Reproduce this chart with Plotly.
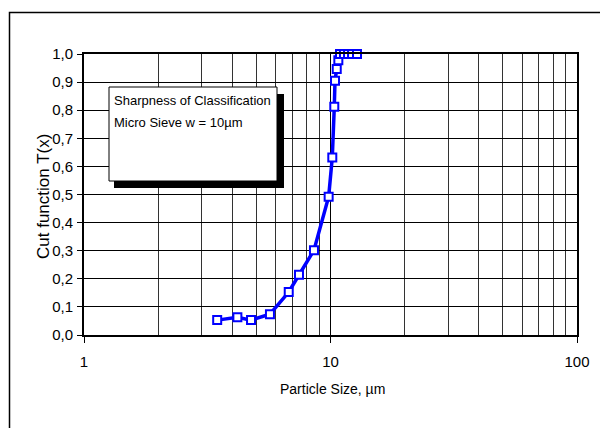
import plotly.graph_objects as go

# Data
particle_size = [3.47, 4.19, 4.76, 5.68, 6.77, 7.45, 8.57, 9.83, 10.17, 10.36,
                 10.43, 10.6, 10.76, 10.93, 11.34, 11.78, 12.23, 12.81]
cut_function = [0.053, 0.063, 0.053, 0.074, 0.153, 0.214, 0.302, 0.492, 0.632, 0.812,
                0.905, 0.947, 0.978, 1.0, 1.0, 1.0, 1.0, 1.0]

x_major_ticks = [1, 10, 100]
x_major_labels = ["1", "10", "100"]
x_minor_ticks = [2, 3, 4, 5, 6, 7, 8, 9, 20, 30, 40, 50, 60, 70, 80, 90]

box_lines = ["Sharpness of Classification", "Micro Sieve w = 10µm"]
x_title = "Particle Size, µm"
y_title = "Cut function T(x)"

FONT = "Liberation Sans, Arial, sans-serif"

fig = go.Figure()
fig.add_trace(go.Scatter(
    x=particle_size, y=cut_function,
    mode="lines+markers",
    line=dict(color="#0000FF", width=3.5),
    marker=dict(symbol="square", size=8, color="white",
                line=dict(color="#0000FF", width=2)),
    cliponaxis=False,
    showlegend=False,
    hoverinfo="skip",
))

# plot area in pixels: x 84..577, y 54..335
def px(x):
    return (x - 84) / 493.0

def py(y):
    return (335 - y) / 281.0

shapes = [
    # outer frame
    dict(type="rect", xref="paper", yref="paper",
         x0=px(9.5), x1=px(605), y0=py(440), y1=py(12.5),
         line=dict(color="black", width=1.5), fillcolor="rgba(0,0,0,0)", layer="below"),
    # shadow of text box
    dict(type="rect", xref="paper", yref="paper",
         x0=px(114), x1=px(284), y0=py(188), y1=py(94),
         line=dict(width=0), fillcolor="black", layer="above"),
    # text box
    dict(type="rect", xref="paper", yref="paper",
         x0=px(109), x1=px(277), y0=py(181), y1=py(87),
         line=dict(color="black", width=1), fillcolor="white", layer="above"),
]

annotations = [
    dict(text=box_lines[0], xref="paper", yref="paper", x=px(112), y=py(100),
         xanchor="left", yanchor="middle", showarrow=False,
         font=dict(family=FONT, size=13, color="black")),
    dict(text=box_lines[1], xref="paper", yref="paper", x=px(112), y=py(122),
         xanchor="left", yanchor="middle", showarrow=False,
         font=dict(family=FONT, size=13, color="black")),
    dict(text=x_title, xref="paper", yref="paper", x=px(332), y=py(389),
         xanchor="center", yanchor="middle", showarrow=False,
         font=dict(family=FONT, size=14, color="black")),
    dict(text=y_title, xref="paper", yref="paper", x=px(43), y=py(197),
         xanchor="center", yanchor="middle", showarrow=False, textangle=-90,
         font=dict(family=FONT, size=17, color="black")),
]

fig.update_layout(
    width=600, height=428,
    margin=dict(l=84, r=23, t=54, b=93, autoexpand=False),
    paper_bgcolor="white", plot_bgcolor="white",
    separators=",.",
    font=dict(family=FONT, size=14, color="black"),
    shapes=shapes,
    annotations=annotations,
    hovermode=False,
    xaxis=dict(
        type="log", range=[0, 2], automargin=False,
        tickmode="array", tickvals=x_major_ticks, ticktext=x_major_labels,
        ticks="outside", ticklen=6, tickwidth=1, tickcolor="black",
        showgrid=True, gridcolor="black", gridwidth=1,
        minor=dict(tickmode="array", tickvals=x_minor_ticks, showgrid=True,
                   gridcolor="#333333", gridwidth=1, ticklen=0),
        showline=True, linecolor="black", linewidth=2, mirror=True,
        zeroline=False,
        tickfont=dict(size=15),
        ticklabelstandoff=6,
    ),
    yaxis=dict(
        range=[0, 1], dtick=0.1, tick0=0, tickformat=".1f", automargin=False,
        ticks="outside", ticklen=5, tickwidth=1, tickcolor="black",
        showgrid=True, gridcolor="black", gridwidth=1,
        showline=True, linecolor="black", linewidth=2, mirror=True,
        zeroline=False,
        tickfont=dict(size=15),
        ticklabelstandoff=1,
    ),
)

fig.write_html(
    "out.html",
    config={"displayModeBar": False, "staticPlot": True},
    post_script="document.body.style.margin='0';document.body.style.overflow='hidden';",
)
